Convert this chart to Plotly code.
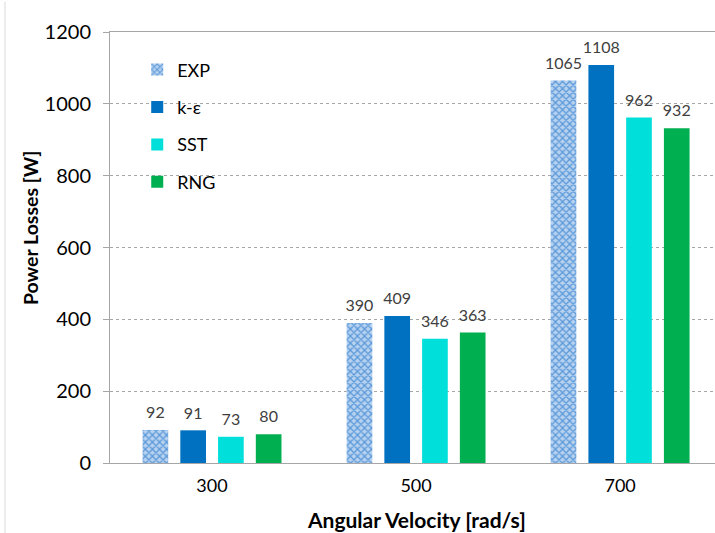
import plotly.graph_objects as go

# Angular velocity categories and power-loss values per model
velocities = ["300", "500", "700"]
series_names = ["EXP", "k-ε", "SST", "RNG"]
exp_vals = [92, 390, 1065]
ke_vals = [91, 409, 1108]
sst_vals = [73, 346, 962]
rng_vals = [80, 363, 932]
y_ticks = [0, 200, 400, 600, 800, 1000, 1200]

FONT = "Lato"
values = [exp_vals, ke_vals, sst_vals, rng_vals]
colors = ["#9cc1ea", "#0070C0", "#00DFDA", "#00B050"]

fig = go.Figure()
for name, vals, col in zip(series_names, values, colors):
    marker = dict(color=col, line=dict(width=0))
    if name == "EXP":
        marker["pattern"] = dict(shape="x", fgcolor="#5a98d8", bgcolor="#b7d2f0",
                                 size=5, solidity=0.45, fillmode="replace")
    fig.add_trace(go.Bar(
        x=velocities, y=vals, name=name, marker=marker,
        # the small base font sets a short trailing line that lifts the label
        text=[f"<span style='font-size:16px'>{v}</span><br> " for v in vals],
        textposition="outside", constraintext="none",
        textfont=dict(family=FONT, size=6, color="#404040"),
        cliponaxis=False, legendgroup=name,
    ))

fig.update_layout(
    width=715, height=533,
    margin=dict(l=110, r=0, t=32, b=70),
    paper_bgcolor="white", plot_bgcolor="white",
    barmode="group", bargap=0.26, bargroupgap=0.32,
    font=dict(family=FONT, color="#000000"),
    showlegend=True,
    legend=dict(x=0.045, y=0.955, xanchor="left", yanchor="top",
                font=dict(family=FONT, size=18, color="#000000"),
                tracegroupgap=11, bgcolor="rgba(0,0,0,0)",
                itemwidth=30),
    xaxis=dict(
        range=[-0.5, 2.465],
        showline=True, linecolor="#a6a6a6", linewidth=1, mirror=True,
        ticks="", tickfont=dict(family=FONT, size=18, color="#000000"),
        ticklabelstandoff=6,
        showgrid=False,
    ),
    yaxis=dict(
        range=[0, 1200], tickvals=y_ticks,
        showline=True, linecolor="#a6a6a6", linewidth=1,
        ticks="outside", ticklen=6, tickcolor="#a6a6a6",
        tickfont=dict(family=FONT, size=20, color="#000000"),
        ticklabelstandoff=8,
        showgrid=True, gridcolor="#a6a6a6", griddash="dot", gridwidth=1,
        zeroline=False,
    ),
)

# axis titles
fig.add_annotation(text="<b>Angular Velocity [rad/s]</b>", xref="paper", yref="paper",
                   x=0.506, y=-0.132, xanchor="center", yanchor="middle",
                   showarrow=False, font=dict(family=FONT, size=21, color="#000000"))
fig.add_annotation(text="<b>Power Losses [W]</b>", xref="paper", yref="paper",
                   x=-0.1322, y=0.545, xanchor="center", yanchor="middle", textangle=-90,
                   showarrow=False, font=dict(family=FONT, size=19.5, color="#000000"))

# thin frame edge on the left side of the figure
fig.add_shape(type="line", xref="paper", yref="paper",
              x0=-0.1735, x1=-0.1735, y0=-0.163, y1=1.07,
              line=dict(color="#d9d9d9", width=1))

fig.write_html("out.html")
